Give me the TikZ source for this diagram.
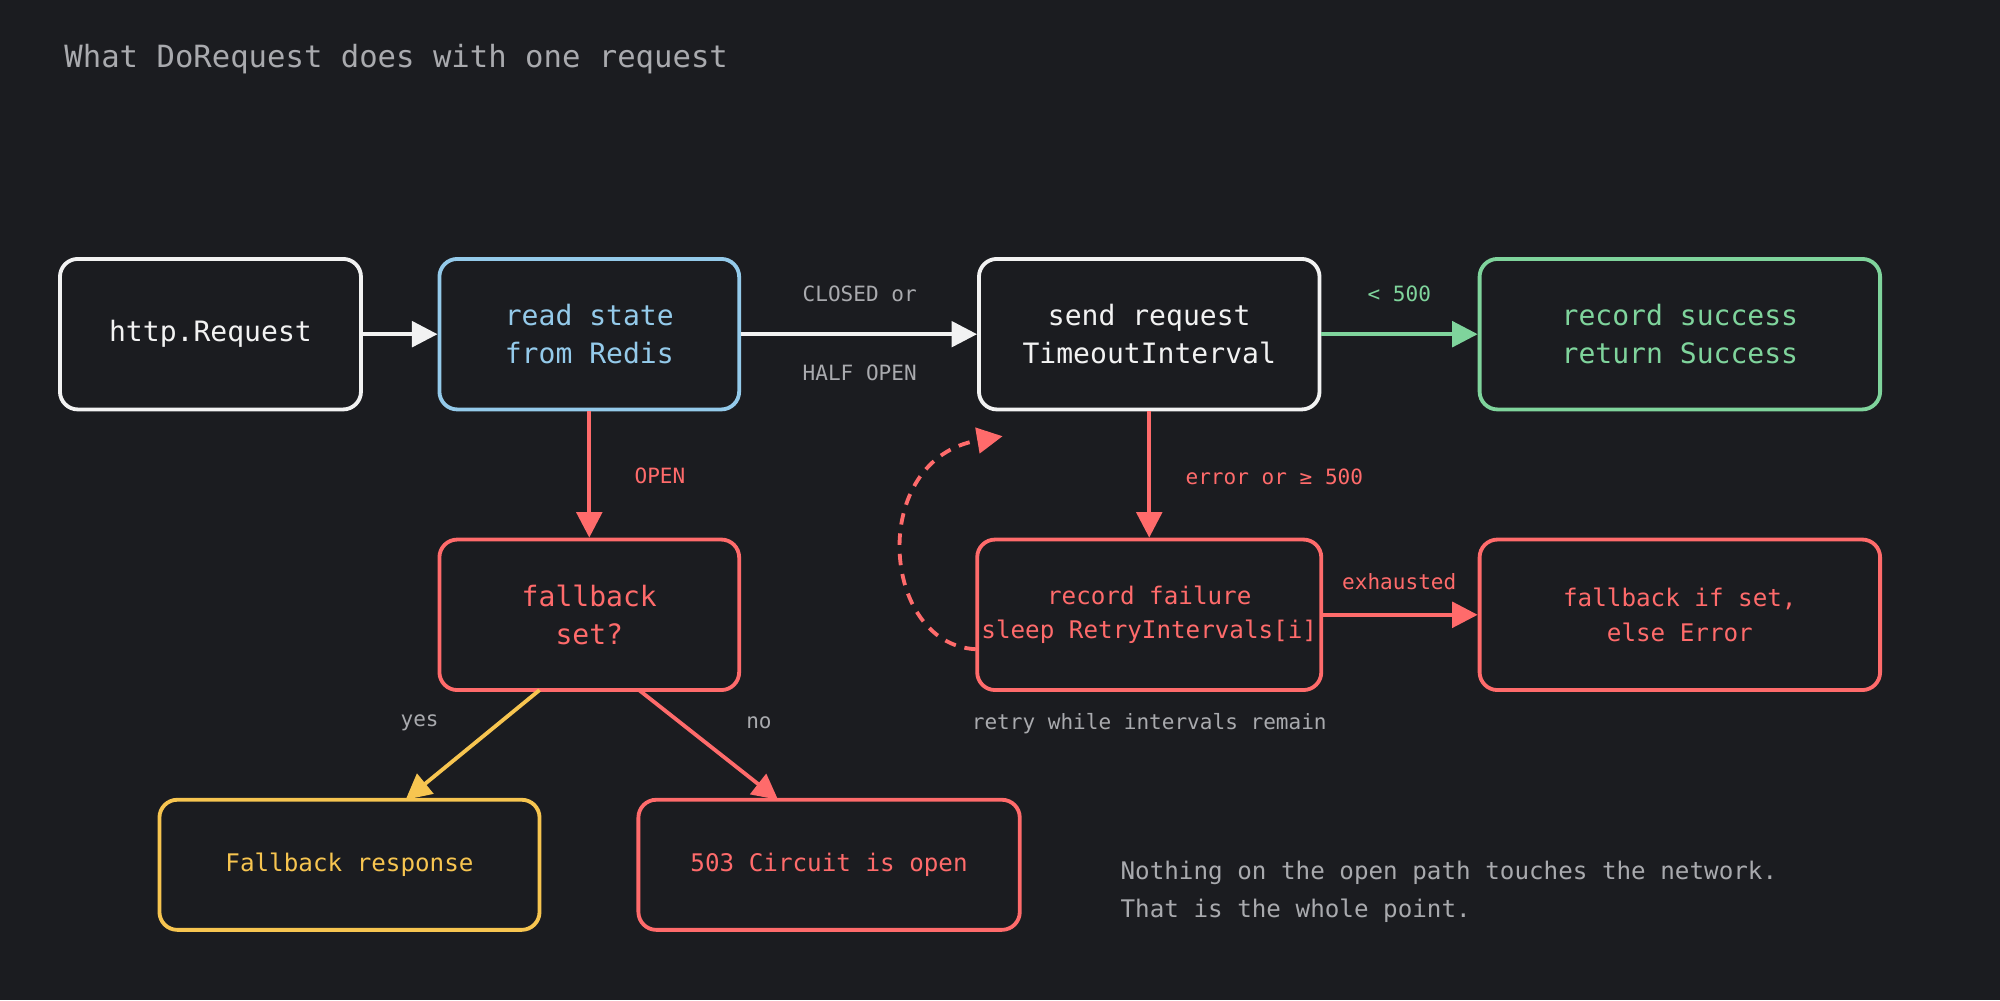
\documentclass[tikz,border=0pt]{standalone}
\usepackage{fontspec}
\setmonofont{DejaVu Sans Mono}
\usetikzlibrary{arrows.meta, positioning}
\definecolor{bgc}{HTML}{1B1C20}
\definecolor{txtw}{HTML}{F2F2F2}
\definecolor{txtg}{HTML}{A9AAAE}
\definecolor{blu}{HTML}{94CAEA}
\definecolor{grn}{HTML}{7FD49C}
\definecolor{rd}{HTML}{FF6B6B}
\definecolor{yel}{HTML}{F7C550}
\tikzset{
    box/.style={
        rectangle,
        draw=#1,
        text=#1,
        line width=3pt,
        rounded corners=14pt,
        fill=bgc,
        align=center,
        font=\fontsize{22}{30}\selectfont\ttfamily
    },
    wire/.style={
        draw=#1,
        line width=3pt,
        -{Triangle[length=20pt,width=20pt]}
    },
    lbl/.style={
        text=#1,
        font=\fontsize{16.5}{20}\selectfont\ttfamily
    }
}
\begin{document}
\begin{tikzpicture}[x=1pt, y=-1pt]

\fill[bgc] (0,0) rectangle (1568,784);
\useasboundingbox (0,0) rectangle (1568,784);

\node[anchor=west, text=txtg, font=\fontsize{24}{28}\selectfont\ttfamily] (title) at (47,46) {What DoRequest does with one request};

% Top row
\node[box=txtw, minimum width=236pt, minimum height=118pt] (req) at (165,262) {http.Request};
\node[box=blu, minimum width=235pt, minimum height=118pt] (redis) at (462,262) {read state\\from Redis};
\node[box=txtw, minimum width=267pt, minimum height=118pt] (send) at (901,262) {send request\\TimeoutInterval};
\node[box=grn, minimum width=314pt, minimum height=118pt] (success) at (1317,262) {record success\\return Success};

% Middle row
\node[box=rd, minimum width=235pt, minimum height=118pt] (fallback) at (462,482) {fallback\\set?};
\node[box=rd, minimum width=267pt, minimum height=118pt, font=\fontsize{19}{26}\selectfont\ttfamily] (failure) at (901,482) {record failure\\sleep RetryIntervals[i]};
\node[box=rd, minimum width=314pt, minimum height=118pt, font=\fontsize{19}{28}\selectfont\ttfamily] (fbif) at (1317,482) {fallback if set,\\else Error};

% Bottom row
\node[box=yel, minimum width=298pt, minimum height=102pt, font=\fontsize{19}{26}\selectfont\ttfamily] (fresp) at (274,678) {Fallback response};
\node[box=rd, minimum width=299pt, minimum height=102pt, font=\fontsize{19}{26}\selectfont\ttfamily] (c503) at (650,678) {503 Circuit is open};

% Connectors
\draw[wire=txtw] (req) -- (redis);
\draw[wire=txtw] (redis) -- (send);
\node[lbl=txtg] (closed) at (674,230) {CLOSED or};
\node[lbl=txtg] (half) at (674,292) {HALF OPEN};
\draw[wire=grn] (send) -- (success);
\node[lbl=grn] (lt) at (1097,230) {< 500};
\draw[wire=rd] (redis) -- (fallback);
\node[lbl=rd, anchor=west] (open) at (494,373) {OPEN};
\draw[wire=rd] (send) -- (failure);
\node[lbl=rd, anchor=west] (err) at (926,374) {error or ≥ 500};
\draw[wire=rd] (failure) -- (fbif);
\node[lbl=rd] (exh) at (1097,456) {exhausted};
\draw[wire=yel] (423,541) -- (318,627);
\draw[wire=rd] (501,541) -- (610,627);
\node[lbl=txtg] (yes) at (329,567) {yes};
\node[lbl=txtg] (no) at (595,567) {no};
\node[lbl=txtg] (retry) at (901,567) {retry while intervals remain};

% Retry loop
\coordinate (loopa) at (765,509);
\coordinate (loopb) at (786,342);
\draw[wire=rd, dashed, dash pattern=on 9pt off 7pt] (loopa) .. controls (690,505) and (680,360) .. (loopb);

% Note
\node[anchor=west, text=txtg, font=\fontsize{19}{30}\selectfont\ttfamily, align=left] (note) at (875,699) {Nothing on the open path touches the network.\\That is the whole point.};

\end{tikzpicture}
\end{document}
